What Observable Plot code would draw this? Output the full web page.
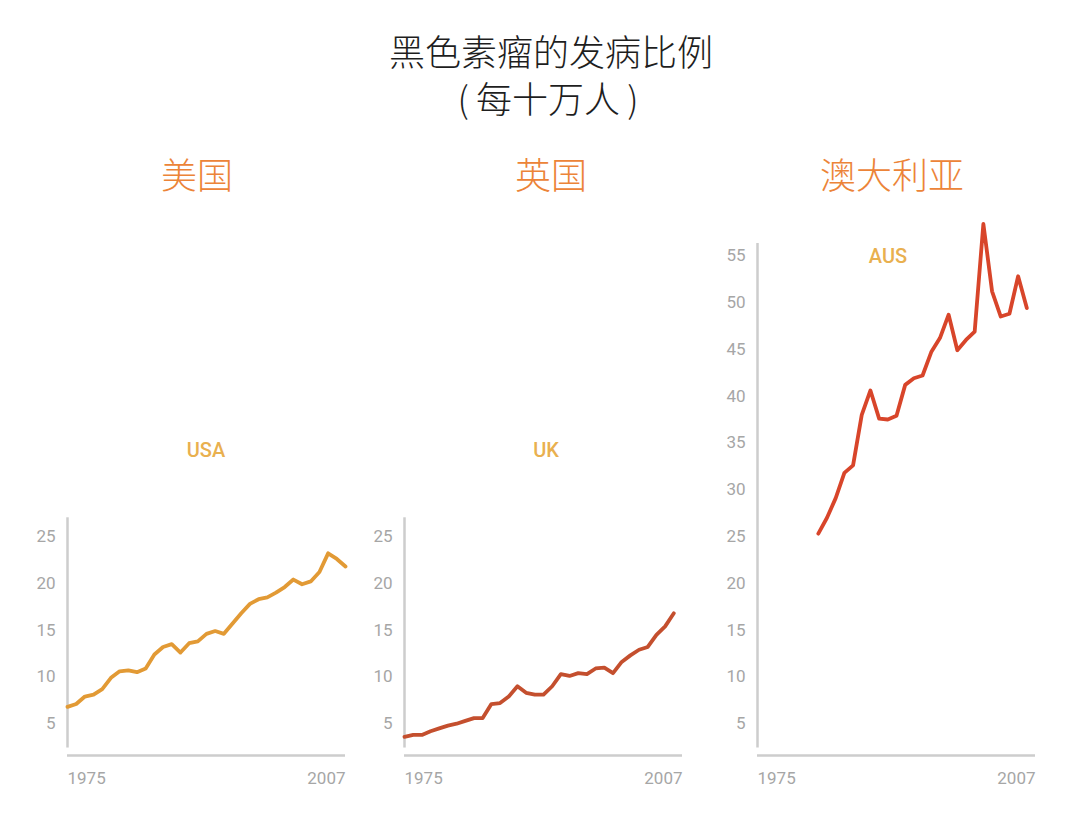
<!DOCTYPE html>
<html><head><meta charset="utf-8">
<script src="https://cdn.jsdelivr.net/npm/d3@7"></script>
<script src="https://cdn.jsdelivr.net/npm/@observablehq/plot@0.6"></script>
<style>
body{margin:0;background:#fff;}
#wrap{position:relative;width:1080px;height:813px;overflow:hidden;background:#fff;font-family:"Noto Sans CJK SC",sans-serif;}
.t{position:absolute;white-space:nowrap;transform:translate(-50%,-50%);line-height:1;}
.panel{position:absolute;top:180px;}
</style></head><body><div id="wrap"></div>
<script>
// ---- data ----
const title = "黑色素瘤的发病比例";
const subtitle = "(\u2009每十万人\u2009)";
const countryNames = ["美国", "英国", "澳大利亚"];
const countryCodes = ["USA", "UK", "AUS"];
const usaYears = [1975,1976,1977,1978,1979,1980,1981,1982,1983,1984,1985,1986,1987,1988,1989,1990,1991,1992,1993,1994,1995,1996,1997,1998,1999,2000,2001,2002,2003,2004,2005,2006,2007];
const usaRates = [6.8,7.1,7.9,8.1,8.7,9.9,10.6,10.7,10.5,10.9,12.4,13.2,13.5,12.6,13.6,13.8,14.6,14.9,14.6,15.7,16.8,17.8,18.3,18.5,19.0,19.6,20.4,19.9,20.2,21.2,23.2,22.6,21.8];
const ukYears = [1975,1976,1977,1978,1979,1980,1981,1982,1983,1984,1985,1986,1987,1988,1989,1990,1991,1992,1993,1994,1995,1996,1997,1998,1999,2000,2001,2002,2003,2004,2005,2006];
const ukRates = [3.6,3.8,3.8,4.2,4.5,4.8,5.0,5.3,5.6,5.6,7.1,7.2,7.9,9.0,8.3,8.1,8.1,9.0,10.3,10.1,10.4,10.3,10.9,11.0,10.4,11.6,12.3,12.9,13.2,14.5,15.4,16.8];
const ausYears = [1982,1983,1984,1985,1986,1987,1988,1989,1990,1991,1992,1993,1994,1995,1996,1997,1998,1999,2000,2001,2002,2003,2004,2005,2006];
const ausRates = [25.3,27.0,29.1,31.8,32.6,38.0,40.6,37.6,37.5,37.9,41.2,41.9,42.2,44.7,46.2,48.7,44.9,46.0,46.9,58.4,51.2,48.5,48.8,52.8,49.4];
const smallTicks = [5,10,15,20,25];
const bigTicks = [5,10,15,20,25,30,35,40,45,50,55];
const yearTicksStart = [1975];
const yearTicksEnd = [2007];

// ---- layout / style ----
const panels = [
  {years: usaYears, rates: usaRates, ticks: smallTicks, color: "#E29A35", left: 1, axisTop: 27.0, nameX: 197, codeX: 206, codeY: 450},
  {years: ukYears, rates: ukRates, ticks: smallTicks, color: "#C44F2E", left: 338, axisTop: 27.0, nameX: 551, codeX: 546, codeY: 450},
  {years: ausYears, rates: ausRates, ticks: bigTicks, color: "#D8452A", left: 691, axisTop: 56.3, nameX: 892, codeX: 888, codeY: 256}
];

const wrap = document.getElementById("wrap");
function addText(txt, x, y, css) {
  const d = document.createElement("div");
  d.className = "t";
  d.textContent = txt;
  d.style.left = x + "px";
  d.style.top = y + "px";
  Object.assign(d.style, css);
  wrap.appendChild(d);
}
addText(title, 551, 50, {fontSize: "36px", color: "#1e1e1e", fontWeight: "300"});
addText(subtitle, 548, 97, {fontSize: "36px", color: "#1e1e1e", fontWeight: "300"});

panels.forEach((p, i) => {
  const data = p.years.map((year, k) => ({year, rate: p.rates[k]}));
  addText(countryNames[i], p.nameX, 173, {fontSize: "36px", color: "#EC8438", fontWeight: "300"});
  const chart = Plot.plot({
    width: 360, height: 620,
    marginLeft: 66, marginRight: 16, marginTop: 0, marginBottom: 40,
    x: {domain: [1975, 2007], label: null},
    y: {domain: [0, 60], range: [590, 28.4], label: null},
    style: {fontFamily: "Roboto, sans-serif", fontSize: "17px", color: "#a6a6a6", background: "transparent", overflow: "visible"},
    marks: [
      Plot.ruleX([1975], {y1: 2.4, y2: p.axisTop, stroke: "#cdcdcd", strokeWidth: 2.5}),
      Plot.ruleY([1.6], {x1: 1975, x2: 2007, stroke: "#cdcdcd", strokeWidth: 2.5}),
      Plot.axisY({ticks: p.ticks, tickSize: 0, tickPadding: 12, tickFormat: d => String(d)}),
      Plot.axisX({ticks: yearTicksStart, tickSize: 0, tickPadding: 11, textAnchor: "start", tickFormat: d => String(d)}),
      Plot.axisX({ticks: yearTicksEnd, tickSize: 0, tickPadding: 11, textAnchor: "end", tickFormat: d => String(d)}),
      Plot.line(data, {x: "year", y: "rate", stroke: p.color, strokeWidth: 3.8, strokeLinejoin: "round", strokeLinecap: "round"})
    ]
  });
  chart.classList.add("panel");
  chart.style.left = p.left + "px";
  chart.style.position = "absolute";
  chart.style.top = "180px";
  wrap.appendChild(chart);
  addText(countryCodes[i], p.codeX, p.codeY, {fontSize: "20px", color: "#E9B04F", fontFamily: "Roboto, sans-serif", fontWeight: "500"});
});
</script>
</body></html>
